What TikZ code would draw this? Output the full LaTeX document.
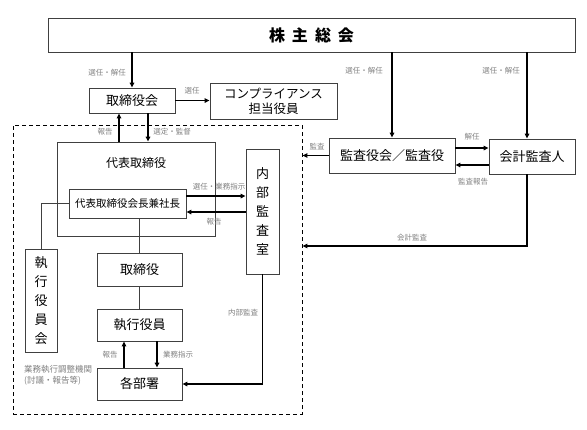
\documentclass[tikz,border=0pt]{standalone}
\usepackage{fontspec}
\setmainfont{Noto Sans CJK JP}
\usetikzlibrary{arrows.meta}
\definecolor{boxline}{RGB}{64,64,64}
\definecolor{notegray}{RGB}{128,128,128}
\tikzset{
  box/.style={draw=boxline,line width=0.8pt,inner sep=0pt,font=\fontsize{13}{19}\selectfont},
  arr/.style={-{Triangle[length=5pt,width=4.5pt]},line width=1.3pt},
  link/.style={draw=boxline,line width=0.9pt},
  note/.style={text=notegray,font=\fontsize{7.5}{9}\selectfont,inner sep=0pt},
  dashbox/.style={draw,dash pattern=on 4pt off 3pt,line width=0.9pt,inner sep=0pt},
}
\begin{document}
\begin{tikzpicture}[x=1pt,y=-1pt]
\useasboundingbox (0,0) rectangle (587,429);
% the dashed area
\node[dashbox,minimum width=289pt,minimum height=289pt] (group) at (157.5,269.5) {};

% boxes
\node[box,minimum width=527pt,minimum height=34pt,font=\fontsize{16}{16}\selectfont\bfseries] (kabu) at (311.5,35) {株\hspace{7pt}主\hspace{7pt}総\hspace{7pt}会};
\node[box,minimum width=86pt,minimum height=25pt] (tori) at (132,100.5) {取締役会};
\node[box,minimum width=127pt,minimum height=36pt,align=center,font=\fontsize{12.5}{15}\selectfont] (comp) at (273.5,101) {コンプライアンス\\担当役員};
\node[box,minimum width=158pt,minimum height=94pt,
      label={[font=\fontsize{12}{12}\selectfont,anchor=center,yshift=-21pt]north:代表取締役}] (daihyo) at (136,189) {};
\node[box,minimum width=117pt,minimum height=29pt,font=\fontsize{10.5}{12}\selectfont] (kaicho) at (127.5,203.5) {代表取締役会長兼社長};
\node[box,minimum width=33pt,minimum height=125pt,align=center] (naibu) at (262.5,211.5) {内\\部\\監\\査\\室};
\node[box,minimum width=32pt,minimum height=103pt,align=center] (shikkokai) at (41,300.5) {執\\行\\役\\員\\会};
\node[box,minimum width=85pt,minimum height=33pt] (torishimari) at (139.5,269.5) {取締役};
\node[box,minimum width=85pt,minimum height=32pt] (shikko) at (139.5,325) {執行役員};
\node[box,minimum width=85pt,minimum height=32pt] (kakubu) at (139.5,384) {各部署};
\node[box,minimum width=126pt,minimum height=35pt] (kansa) at (392,155.5) {監査役会／監査役};
\node[box,minimum width=86pt,minimum height=35pt] (kaikei) at (532,156.5) {会計監査人};

\coordinate (hx) at (119,0);
\coordinate (sx) at (148,0);
\coordinate (bx) at (124,0);
\coordinate (gx) at (157,0);
\coordinate (kx) at (527,0);
\coordinate (ky) at (0,246);

% connectors
\draw[arr] (kabu.south -| tori) -- (tori.north);
\draw[arr] (tori.east) -- (tori.east -| comp.west);
\draw[arr] (daihyo.north -| hx) -- (tori.south -| hx);
\draw[arr] (tori.south -| sx) -- (daihyo.north -| sx);
\draw[arr] ([yshift=7.5pt]kaicho.east) -- ([yshift=7.5pt]kaicho.east -| naibu.west);
\draw[arr] ([yshift=-8.5pt]kaicho.east -| naibu.west) -- ([yshift=-8.5pt]kaicho.east);
\draw[link] (kaicho.west) -| (shikkokai.north);
\draw[link] (kaicho.south -| torishimari) -- (torishimari.north);
\draw[link] (torishimari.south) -- (shikko.north);
\draw[arr] (kakubu.north -| bx) -- (shikko.south -| bx);
\draw[arr] (shikko.south -| gx) -- (kakubu.north -| gx);
\draw[arr] (naibu.south) |- (kakubu.east);
\draw[arr] (kabu.south -| kansa) -- (kansa.north);
\draw[arr] (kabu.south -| kx) -- (kaikei.north -| kx);
\draw[arr] ([yshift=7.5pt]kansa.east) -- ([yshift=7.5pt]kansa.east -| kaikei.west);
\draw[arr] ([yshift=-9.5pt]kansa.east -| kaikei.west) -- ([yshift=-9.5pt]kansa.east);
\draw[arr] (kansa.west) -- (kansa.west -| group.east);
\draw[arr] (kaikei.south -| kx) |- (group.east |- ky);

% labels
\node[note] (n1) at (107,73) {選任・解任};
\node[note] (n2) at (192,91) {選任};
\node[note] (n3) at (105,132) {報告};
\node[note] (n4) at (172,132) {選定・監督};
\node[note] (n5) at (364,71) {選任・解任};
\node[note] (n6) at (501,71) {選任・解任};
\node[note] (n7) at (472,137) {解任};
\node[note] (n8) at (473,182) {監査報告};
\node[note] (n9) at (317,147) {監査};
\node[note] (n10) at (412,238) {会計監査};
\node[note] (n11) at (219,187) {選任・業務指示};
\node[note] (n12) at (214,222) {報告};
\node[note] (n13) at (243,313) {内部監査};
\node[note] (n14) at (110,355) {報告};
\node[note] (n15) at (178,355) {業務指示};
\node[note,font=\fontsize{8.5}{11}\selectfont,align=left,anchor=west] (n16) at (24,375) {業務執行調整機関\\(討議・報告等)};
\end{tikzpicture}
\end{document}
